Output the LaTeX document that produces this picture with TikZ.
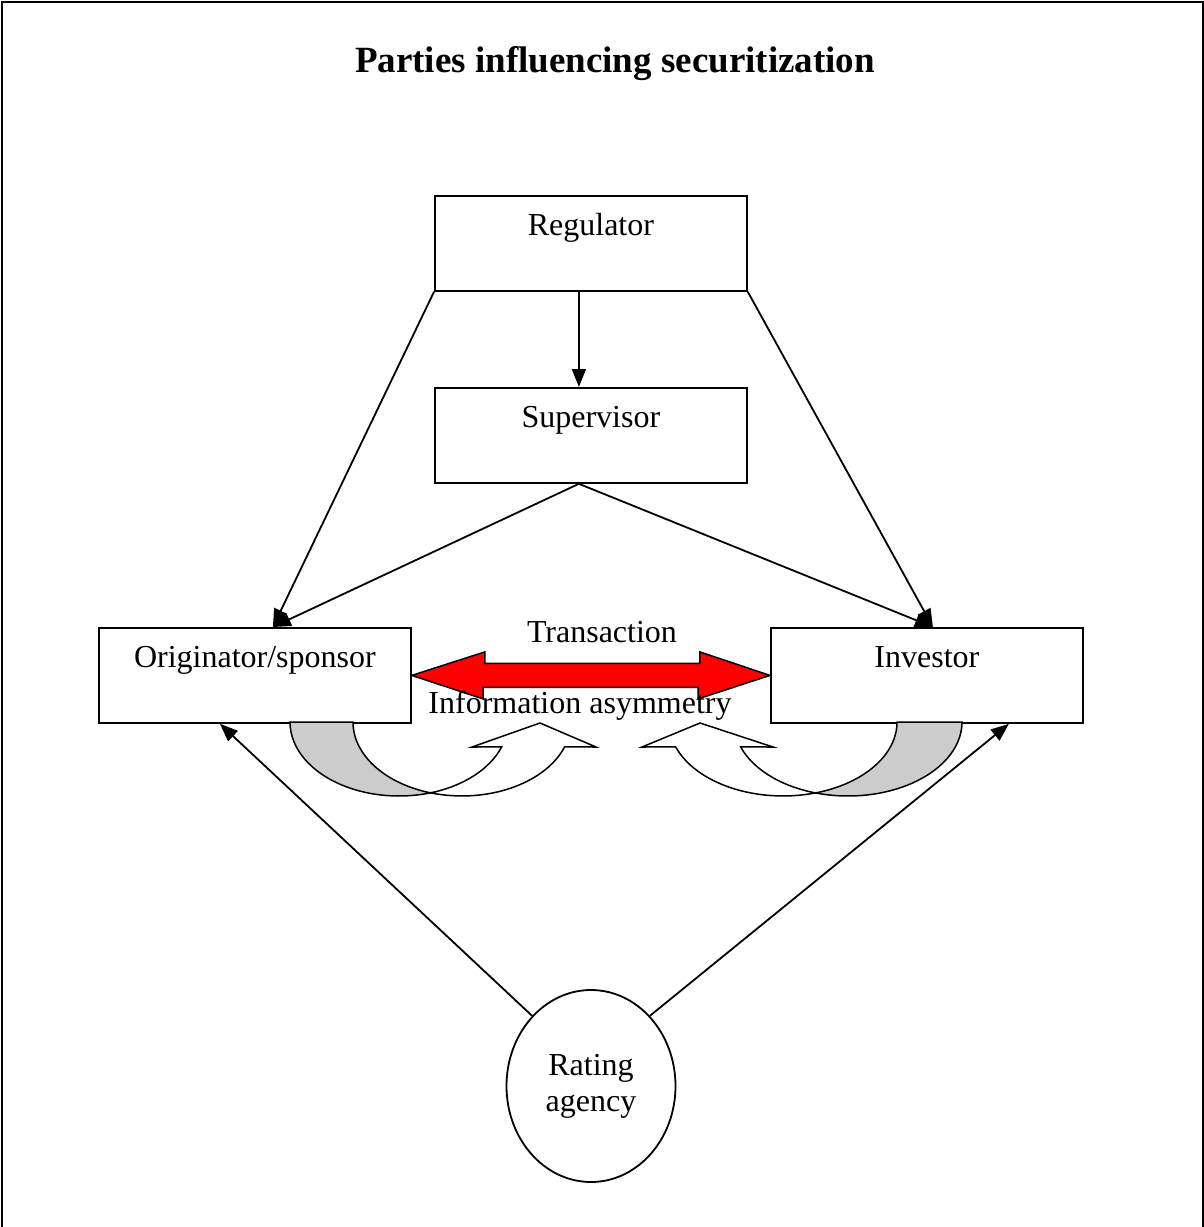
\documentclass[tikz,border=0pt]{standalone}
\usepackage{fontspec}
\setmainfont{Liberation Serif}
\usetikzlibrary{calc,shapes.geometric,arrows.meta}

\begin{document}
\begin{tikzpicture}[x=1pt,y=1pt,
  line width=1.8pt,
  bodyfont/.style={font=\fontsize{32}{36}\selectfont},
  party/.style={draw, rectangle, bodyfont, anchor=north west, minimum width=312pt,
    inner sep=0pt, text height=40pt, text depth=55pt},
  link/.style={-{Triangle[length=18pt,width=14pt]}},
  caption/.style={bodyfont, anchor=base, inner sep=0pt},
  transfer/.style={draw=black, fill=red, line width=1.5pt, line join=miter},
  curveback/.style={draw=black, fill=gray!40, line width=1.5pt},
  curvefront/.style={draw=black, fill=white, line width=1.5pt, line join=miter},
]
\useasboundingbox (0,0) rectangle (1204,-1227);

% page frame, open at the foot
\draw[line width=2pt] (1.5,-1227) -- (1.5,-1.5) -- (1202.5,-1.5) -- (1202.5,-1227);

% heading
\node[anchor=base, font=\bfseries\fontsize{37}{40}\selectfont, inner sep=0pt] (title)
  at (615,-72) {Parties influencing securitization};

% parties
\node[party] (reg)  at (434,-195) {Regulator};
\node[party] (sup)  at (434,-387) {Supervisor};
\node[party] (orig) at (98,-627)  {Originator/sponsor};
\node[party] (inv)  at (770,-627) {Investor};
\node[draw, ellipse, bodyfont, align=center, minimum width=169pt, minimum height=192pt,
  inner sep=0pt] (rating) at (591,-1086) {Rating\\agency};

% connectors
\coordinate (regfoot) at ($(reg.south)+(-12,0)$);
\coordinate (supfoot) at ($(sup.south)+(-12,0)$);
\coordinate (origtop) at ($(orig.north)+(18,0)$);
\coordinate (invtop)  at ($(inv.north)+(6,0)$);
\coordinate (origbot) at ($(orig.south)+(-35,0)$);
\coordinate (invbot)  at ($(inv.south)+(82,0)$);

\draw[link] (regfoot) -- (regfoot |- sup.north);
\draw[link] (reg.south west) -- (origtop);
\draw[link] (reg.south east) -- (invtop);
\draw[link] (supfoot) -- (origtop);
\draw[link] (supfoot) -- (invtop);
\draw[link] (rating.130) -- (origbot);
\draw[link] (rating.50) -- (invbot);

% transaction: red double arrow between the two boxes
\draw[transfer] (orig.east) -- ++(73,23.5) -- ++(0,-11.5) -- ++(215,0) -- ++(0,11.5)
  -- (inv.west) -- ++(-72,-23.5) -- ++(0,11.5) -- ++(-215,0) -- ++(0,-11.5) -- cycle;

\node[caption] (trans) at (602,-642) {Transaction};
\node[caption] (asym)  at (580,-713) {Information asymmetry};

% curved arrow under the originator
\path[curveback] (290,-722)
  arc[start angle=180, end angle=286.8, x radius=109, y radius=74]
  arc[start angle=253.2, end angle=180, x radius=109, y radius=74] -- cycle;
\path[curvefront] (430.5,-792.84)
  arc[start angle=286.8, end angle=340.3, x radius=109, y radius=74]
  -- (472,-747) -- (540,-723) -- (596,-747) -- (564.6,-746.9)
  arc[start angle=340.3, end angle=253.2, x radius=109, y radius=74] -- cycle;

% curved arrow under the investor
\path[curveback] (962,-722)
  arc[start angle=0, end angle=-106.56, x radius=114, y radius=74]
  arc[start angle=-73.44, end angle=0, x radius=114, y radius=74] -- cycle;
\path[curvefront] (815.5,-792.93)
  arc[start angle=253.44, end angle=199.7, x radius=114, y radius=74]
  -- (773,-747) -- (700,-723) -- (642,-747) -- (675.7,-746.9)
  arc[start angle=199.7, end angle=286.56, x radius=114, y radius=74] -- cycle;

\end{tikzpicture}
\end{document}
